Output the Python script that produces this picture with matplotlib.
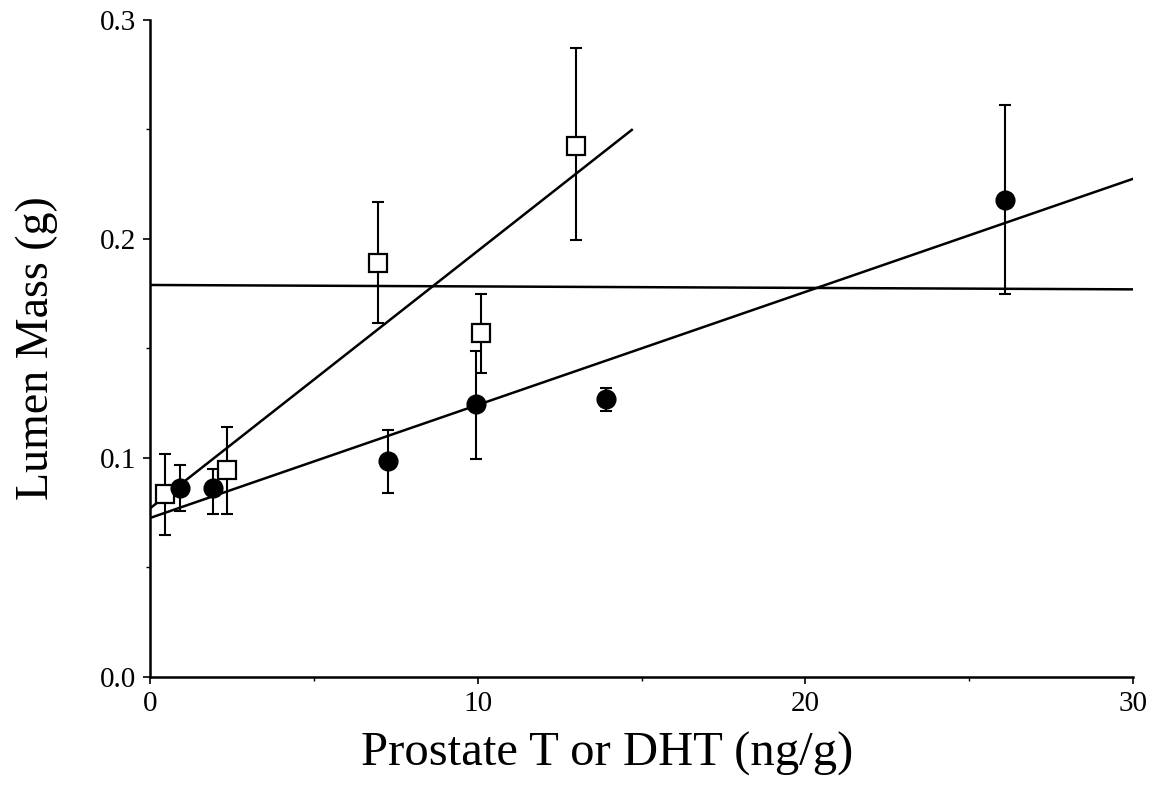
"""
Lumen mass vs prostate T or DHT, scatter with error bars and fitted lines.
Run: python plot.py
"""

import matplotlib.pyplot as plt
from matplotlib.ticker import MultipleLocator

# open squares
sq_x = [0.46, 2.35, 6.96, 10.1, 13.0]
sq_y = [0.0836, 0.0945, 0.189, 0.157, 0.2425]
sq_lo = [0.065, 0.0744, 0.1616, 0.139, 0.1995]
sq_hi = [0.102, 0.114, 0.217, 0.175, 0.287]

# filled circles
ci_x = [0.92, 1.92, 7.26, 9.95, 13.92, 26.1]
ci_y = [0.0863, 0.0863, 0.0986, 0.1247, 0.127, 0.218]
ci_lo = [0.0758, 0.0744, 0.084, 0.0995, 0.1215, 0.175]
ci_hi = [0.097, 0.095, 0.113, 0.149, 0.132, 0.261]

# fitted / reference lines (end points)
steep_x = [0.0, 14.7]
steep_y = [0.077, 0.2498]
shallow_x = [0.0, 30.0]
shallow_y = [0.0726, 0.2275]
flat_x = [0.0, 30.0]
flat_y = [0.179, 0.177]

x_ticks = [0, 10, 20, 30]
y_ticks = [0.0, 0.1, 0.2, 0.3]
y_tick_labels = ["0.0", "0.1", "0.2", "0.3"]

plt.rcParams["font.family"] = ["Liberation Serif", "DejaVu Serif"]

fig = plt.figure(figsize=(11.55, 7.87), dpi=100)
ax = fig.add_axes([0.1299, 0.1398, 0.8512, 0.8348])

for lx, ly in [(steep_x, steep_y), (shallow_x, shallow_y), (flat_x, flat_y)]:
    ax.plot(lx, ly, color="black", linewidth=1.8, zorder=2)


def err(y, lo, hi):
    return [[v - l for v, l in zip(y, lo)], [h - v for v, h in zip(y, hi)]]


ax.errorbar(sq_x, sq_y, yerr=err(sq_y, sq_lo, sq_hi), fmt="none",
            ecolor="black", elinewidth=1.5, capsize=4.3, capthick=1.5, zorder=3)
ax.errorbar(ci_x, ci_y, yerr=err(ci_y, ci_lo, ci_hi), fmt="none",
            ecolor="black", elinewidth=1.5, capsize=4.3, capthick=1.5, zorder=3)
ax.plot(sq_x, sq_y, linestyle="none", marker="s", markersize=13,
        markerfacecolor="white", markeredgecolor="black", markeredgewidth=1.6, zorder=4)
ax.plot(ci_x, ci_y, linestyle="none", marker="o", markersize=13.5,
        markerfacecolor="black", markeredgecolor="black", zorder=4)

ax.set_xlim(0, 30)
ax.set_ylim(0, 0.3)
ax.set_xticks(x_ticks)
ax.set_yticks(y_ticks)
ax.set_yticklabels(y_tick_labels)
ax.xaxis.set_minor_locator(MultipleLocator(5))
ax.yaxis.set_minor_locator(MultipleLocator(0.05))
ax.tick_params(which="major", length=5, width=1.2, labelsize=21, pad=5)
ax.tick_params(which="minor", length=3, width=1.0)

for side in ["top", "right"]:
    ax.spines[side].set_visible(False)
for side in ["left", "bottom"]:
    ax.spines[side].set_linewidth(1.8)

ax.set_xlabel("Prostate T or DHT (ng/g)", fontsize=35)
ax.set_ylabel("Lumen Mass (g)", fontsize=33)
ax.xaxis.set_label_coords(0.465, -0.084)
ax.yaxis.set_label_coords(-0.094, 0.50)

fig.savefig("out.png", dpi=100)
